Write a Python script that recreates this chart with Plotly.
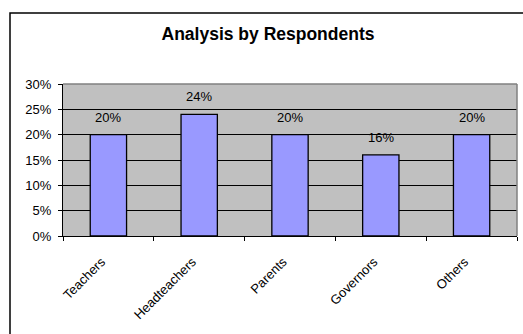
import plotly.graph_objects as go

categories = ["Teachers", "Headteachers", "Parents", "Governors", "Others"]
shares = [0.20, 0.24, 0.20, 0.16, 0.20]
y_ticks = [0, 0.05, 0.10, 0.15, 0.20, 0.25, 0.30]
y_tick_text = ["0%", "5%", "10%", "15%", "20%", "25%", "30%"]

FONT = "Liberation Sans, Arial, sans-serif"

W, H = 523, 334
L, R, T, B = 63, 6, 84, 98
pw, ph = W - L - R, H - T - B


def px_x(x):
    return (x - L) / pw


def px_y(y):
    return (H - B - y) / ph


fig = go.Figure()
fig.add_trace(go.Bar(
    x=categories,
    y=shares,
    marker=dict(color="#9999FF", line=dict(color="#000000", width=1.3)),
    width=0.4,
    hoverinfo="skip",
))

for c, v in zip(categories, shares):
    fig.add_annotation(
        x=c, y=v, text=f"{v * 100:.0f}%", showarrow=False,
        yanchor="bottom", yshift=8,
        font=dict(family=FONT, size=13, color="#000000"),
    )

# plot-area border on the top and right edges
fig.add_shape(type="line", xref="paper", yref="paper", x0=0, x1=1, y0=1, y1=1,
              line=dict(color="#808080", width=1.5), layer="above")
fig.add_shape(type="line", xref="paper", yref="paper", x0=1, x1=1, y0=0, y1=1,
              line=dict(color="#808080", width=1.5), layer="above")
# outer chart frame
fig.add_shape(type="rect", xref="paper", yref="paper",
              x0=px_x(10), x1=px_x(526), y0=px_y(337), y1=px_y(13),
              line=dict(color="#000000", width=1.5), layer="below")

fig.update_layout(
    width=W, height=H,
    margin=dict(l=L, r=R, t=T, b=B),
    paper_bgcolor="#FFFFFF",
    plot_bgcolor="#C0C0C0",
    showlegend=False,
    bargap=0.6,
    title=dict(
        text="<b>Analysis by Respondents</b>",
        font=dict(family=FONT, size=17.5, color="#000000"),
        x=268 / W, xanchor="center",
        y=1 - 34 / H, yanchor="middle",
    ),
    font=dict(family=FONT, size=13, color="#000000"),
)

fig.update_xaxes(
    type="category",
    tickangle=-45,
    ticks="outside", ticklen=4, tickcolor="#000000",
    tickson="boundaries",
    ticklabelstandoff=12,
    ticklabelshift=-7,
    showline=True, linecolor="#000000", linewidth=1.3,
    showgrid=False,
    tickfont=dict(family=FONT, size=13, color="#000000"),
)
fig.update_yaxes(
    range=[0, 0.3],
    tickvals=y_ticks, ticktext=y_tick_text,
    ticks="outside", ticklen=4, tickcolor="#000000",
    ticklabelstandoff=4,
    showline=True, linecolor="#000000", linewidth=1.3,
    showgrid=True, gridcolor="#000000", gridwidth=1,
    zeroline=False,
    tickfont=dict(family=FONT, size=13, color="#000000"),
)

fig.write_html("out.html")
